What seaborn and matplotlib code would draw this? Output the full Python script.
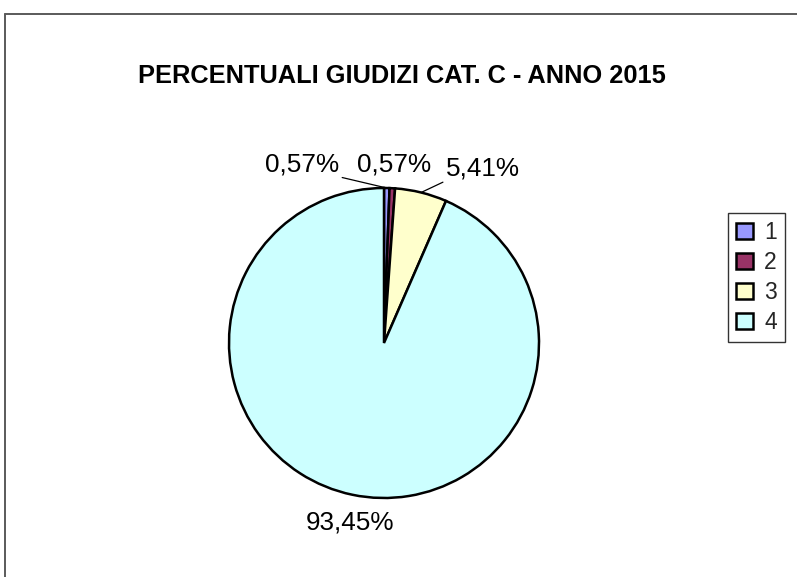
import numpy as np
import matplotlib
matplotlib.use("Agg")
import matplotlib.pyplot as plt
from matplotlib.lines import Line2D
import seaborn as sns

# ---- data ----
categories = ["1", "2", "3", "4"]
values = [0.57, 0.57, 5.41, 93.45]
title = "PERCENTUALI GIUDIZI CAT. C - ANNO 2015"

# ---- style ----
colors = ["#9999FF", "#993366", "#FFFFCC", "#CCFFFF"]
sns.set_theme(style="white")
plt.rcParams["font.family"] = ["Liberation Sans", "DejaVu Sans"]

W, H = 797, 577
fig = plt.figure(figsize=(W / 100, H / 100), dpi=100)
fig.patch.set_facecolor("white")

# outer chart-area frame (top & left visible)
fig.add_artist(Line2D([5 / W, 1.0], [1 - 13.5 / H, 1 - 13.5 / H], transform=fig.transFigure,
                      color="#5a5a5a", lw=1.4))
fig.add_artist(Line2D([5 / W, 5 / W], [0.0, 1 - 13.5 / H], transform=fig.transFigure,
                      color="#5a5a5a", lw=1.4))

# pie axes: centre (384,343) radius 155 px
cx, cy, r = 384, 343, 155
ax = fig.add_axes([(cx - r) / W, 1 - (cy + r) / H, 2 * r / W, 2 * r / H])
wedges, _ = ax.pie(values, colors=colors, startangle=90, counterclock=False,
                   radius=1.0, wedgeprops=dict(edgecolor="black", linewidth=1.8))
ax.set_xlim(-1, 1)
ax.set_ylim(-1, 1)
ax.set_aspect("equal")
ax.axis("off")

# label placement (offsets in axis units) and whether a leader line is drawn
label_pos = [(-0.53, 1.15), (0.065, 1.15), (0.64, 1.125), (-0.22, -1.155)]
leader = [True, False, True, False]
relpos = [(1.0, 0.0), (0.5, 0.0), (0.0, 0.0), (0.5, 1.0)]

for w, v, pos, ld, rp in zip(wedges, values, label_pos, leader, relpos):
    mid = np.deg2rad((w.theta1 + w.theta2) / 2)
    edge = (np.cos(mid), np.sin(mid))
    txt = f"{v:.2f}%".replace(".", ",")
    ap = dict(arrowstyle="-", color="black", lw=0.9, shrinkA=0, shrinkB=0,
              relpos=rp) if ld else None
    ax.annotate(txt, xy=edge, xytext=pos, textcoords="data", ha="center",
                va="center", fontsize=18.8, color="black", arrowprops=ap,
                annotation_clip=False)

# title
fig.text(402 / W, 1 - 83 / H, title, ha="center", va="baseline",
         fontsize=18.3, fontweight="bold", color="black")

# legend
leg = fig.legend(wedges, categories, loc="upper left",
                 bbox_to_anchor=(728 / W, 1 - 213 / H), borderaxespad=0,
                 fontsize=16.5, frameon=True, fancybox=False, shadow=False,
                 handlelength=0.72, handleheight=0.72, handletextpad=0.5,
                 labelspacing=0.3, borderpad=0.36)
leg.get_frame().set_edgecolor("black")
leg.get_frame().set_linewidth(1.0)

fig.savefig("out.png", dpi=100, facecolor="white")
